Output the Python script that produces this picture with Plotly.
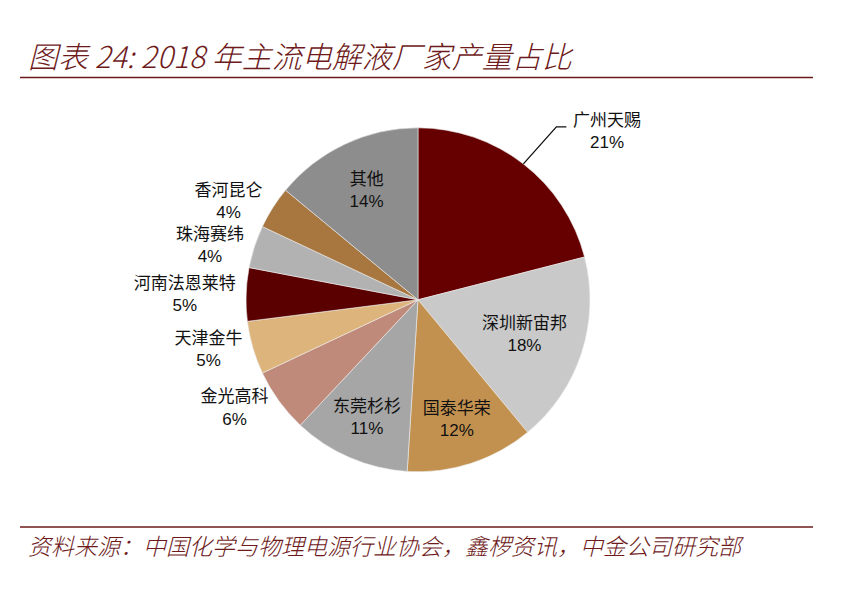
import math
import plotly.graph_objects as go

# 2018 主流电解液厂家产量占比 (%)
companies = ["广州天赐", "深圳新宙邦", "国泰华荣", "东莞杉杉", "金光高科",
             "天津金牛", "河南法恩莱特", "珠海赛纬", "香河昆仑", "其他"]
shares = [21, 18, 12, 11, 6, 5, 5, 4, 4, 14]
colors = ["#660000", "#C9C9C9", "#C3914F", "#A6A6A6", "#C08A7A",
          "#DDB47B", "#5A0000", "#B2B2B2", "#A8773F", "#8D8D8D"]
# first slice gets its own label with a leader line
positions = ["none", "inside", "inside", "inside", "outside",
             "outside", "outside", "outside", "outside", "inside"]

title_text = "图表 24: 2018 年主流电解液厂家产量占比"
source_text = "资料来源：中国化学与物理电源行业协会，鑫椤资讯，中金公司研究部"
dark_red = "#6E1A1A"
font_stack = "Liberation Sans, Noto Sans CJK SC, sans-serif"

W, H = 844, 589
dom_x = [0.2915, 0.699]
dom_y = [0.199, 0.783]

fig = go.Figure(go.Pie(
    labels=companies,
    values=shares,
    sort=False,
    direction="clockwise",
    rotation=0,
    marker=dict(colors=colors, line=dict(color="#EDEDED", width=0.6)),
    texttemplate="%{label}<br>%{value}%",
    textposition=positions,
    insidetextorientation="horizontal",
    textfont=dict(family=font_stack, size=17, color="#111111"),
    domain=dict(x=dom_x, y=dom_y),
    hoverinfo="label+percent",
    showlegend=False,
))

# leader line for the first slice, from the middle of its arc
cx = (dom_x[0] + dom_x[1]) / 2 * W
cy = (1 - (dom_y[0] + dom_y[1]) / 2) * H
r = min((dom_x[1] - dom_x[0]) * W, (dom_y[1] - dom_y[0]) * H) / 2
theta = 2 * math.pi * (shares[0] / 2) / sum(shares)
px0, py0 = cx + r * math.sin(theta), cy - r * math.cos(theta)
px1, py1 = px0 + 33, py0 - 37
px2, py2 = px1 + 10, py1


def to_paper(x, y):
    return x / W, 1 - y / H


p0, p1, p2 = to_paper(px0, py0), to_paper(px1, py1), to_paper(px2, py2)
lead_path = f"M {p0[0]},{p0[1]} L {p1[0]},{p1[1]} L {p2[0]},{p2[1]}"
lab_x, lab_y = to_paper(px2 + 5, py2 + 5)

fig.update_layout(
    width=W, height=H,
    margin=dict(l=0, r=0, t=0, b=0),
    paper_bgcolor="white",
    plot_bgcolor="white",
    annotations=[
        dict(text=f"<i>{title_text}</i>", x=26 / W, y=1 - 55 / H,
             xref="paper", yref="paper", xanchor="left", yanchor="middle",
             showarrow=False,
             font=dict(family="Noto Sans CJK SC", size=30, color=dark_red,
                       weight=300)),
        dict(text=f"<i>{source_text}</i>", x=26 / W, y=1 - 545 / H,
             xref="paper", yref="paper", xanchor="left", yanchor="middle",
             showarrow=False,
             font=dict(family="Noto Sans CJK SC", size=23, color=dark_red,
                       weight=300)),
        dict(text=f"{companies[0]}<br>{shares[0]}%", x=lab_x, y=lab_y,
             xref="paper", yref="paper", xanchor="left", yanchor="middle",
             align="center", showarrow=False,
             font=dict(family=font_stack, size=17, color="#111111")),
    ],
    shapes=[
        dict(type="line", xref="paper", yref="paper",
             x0=20 / W, x1=813 / W, y0=1 - 77.5 / H, y1=1 - 77.5 / H,
             line=dict(color=dark_red, width=1.5)),
        dict(type="line", xref="paper", yref="paper",
             x0=20 / W, x1=813 / W, y0=1 - 527 / H, y1=1 - 527 / H,
             line=dict(color=dark_red, width=1.5)),
        dict(type="path", xref="paper", yref="paper", path=lead_path,
             line=dict(color="#111111", width=1.3)),
    ],
)

fig.write_html("out.html", config={"displayModeBar": False},
               post_script="document.body.style.margin='0';")
